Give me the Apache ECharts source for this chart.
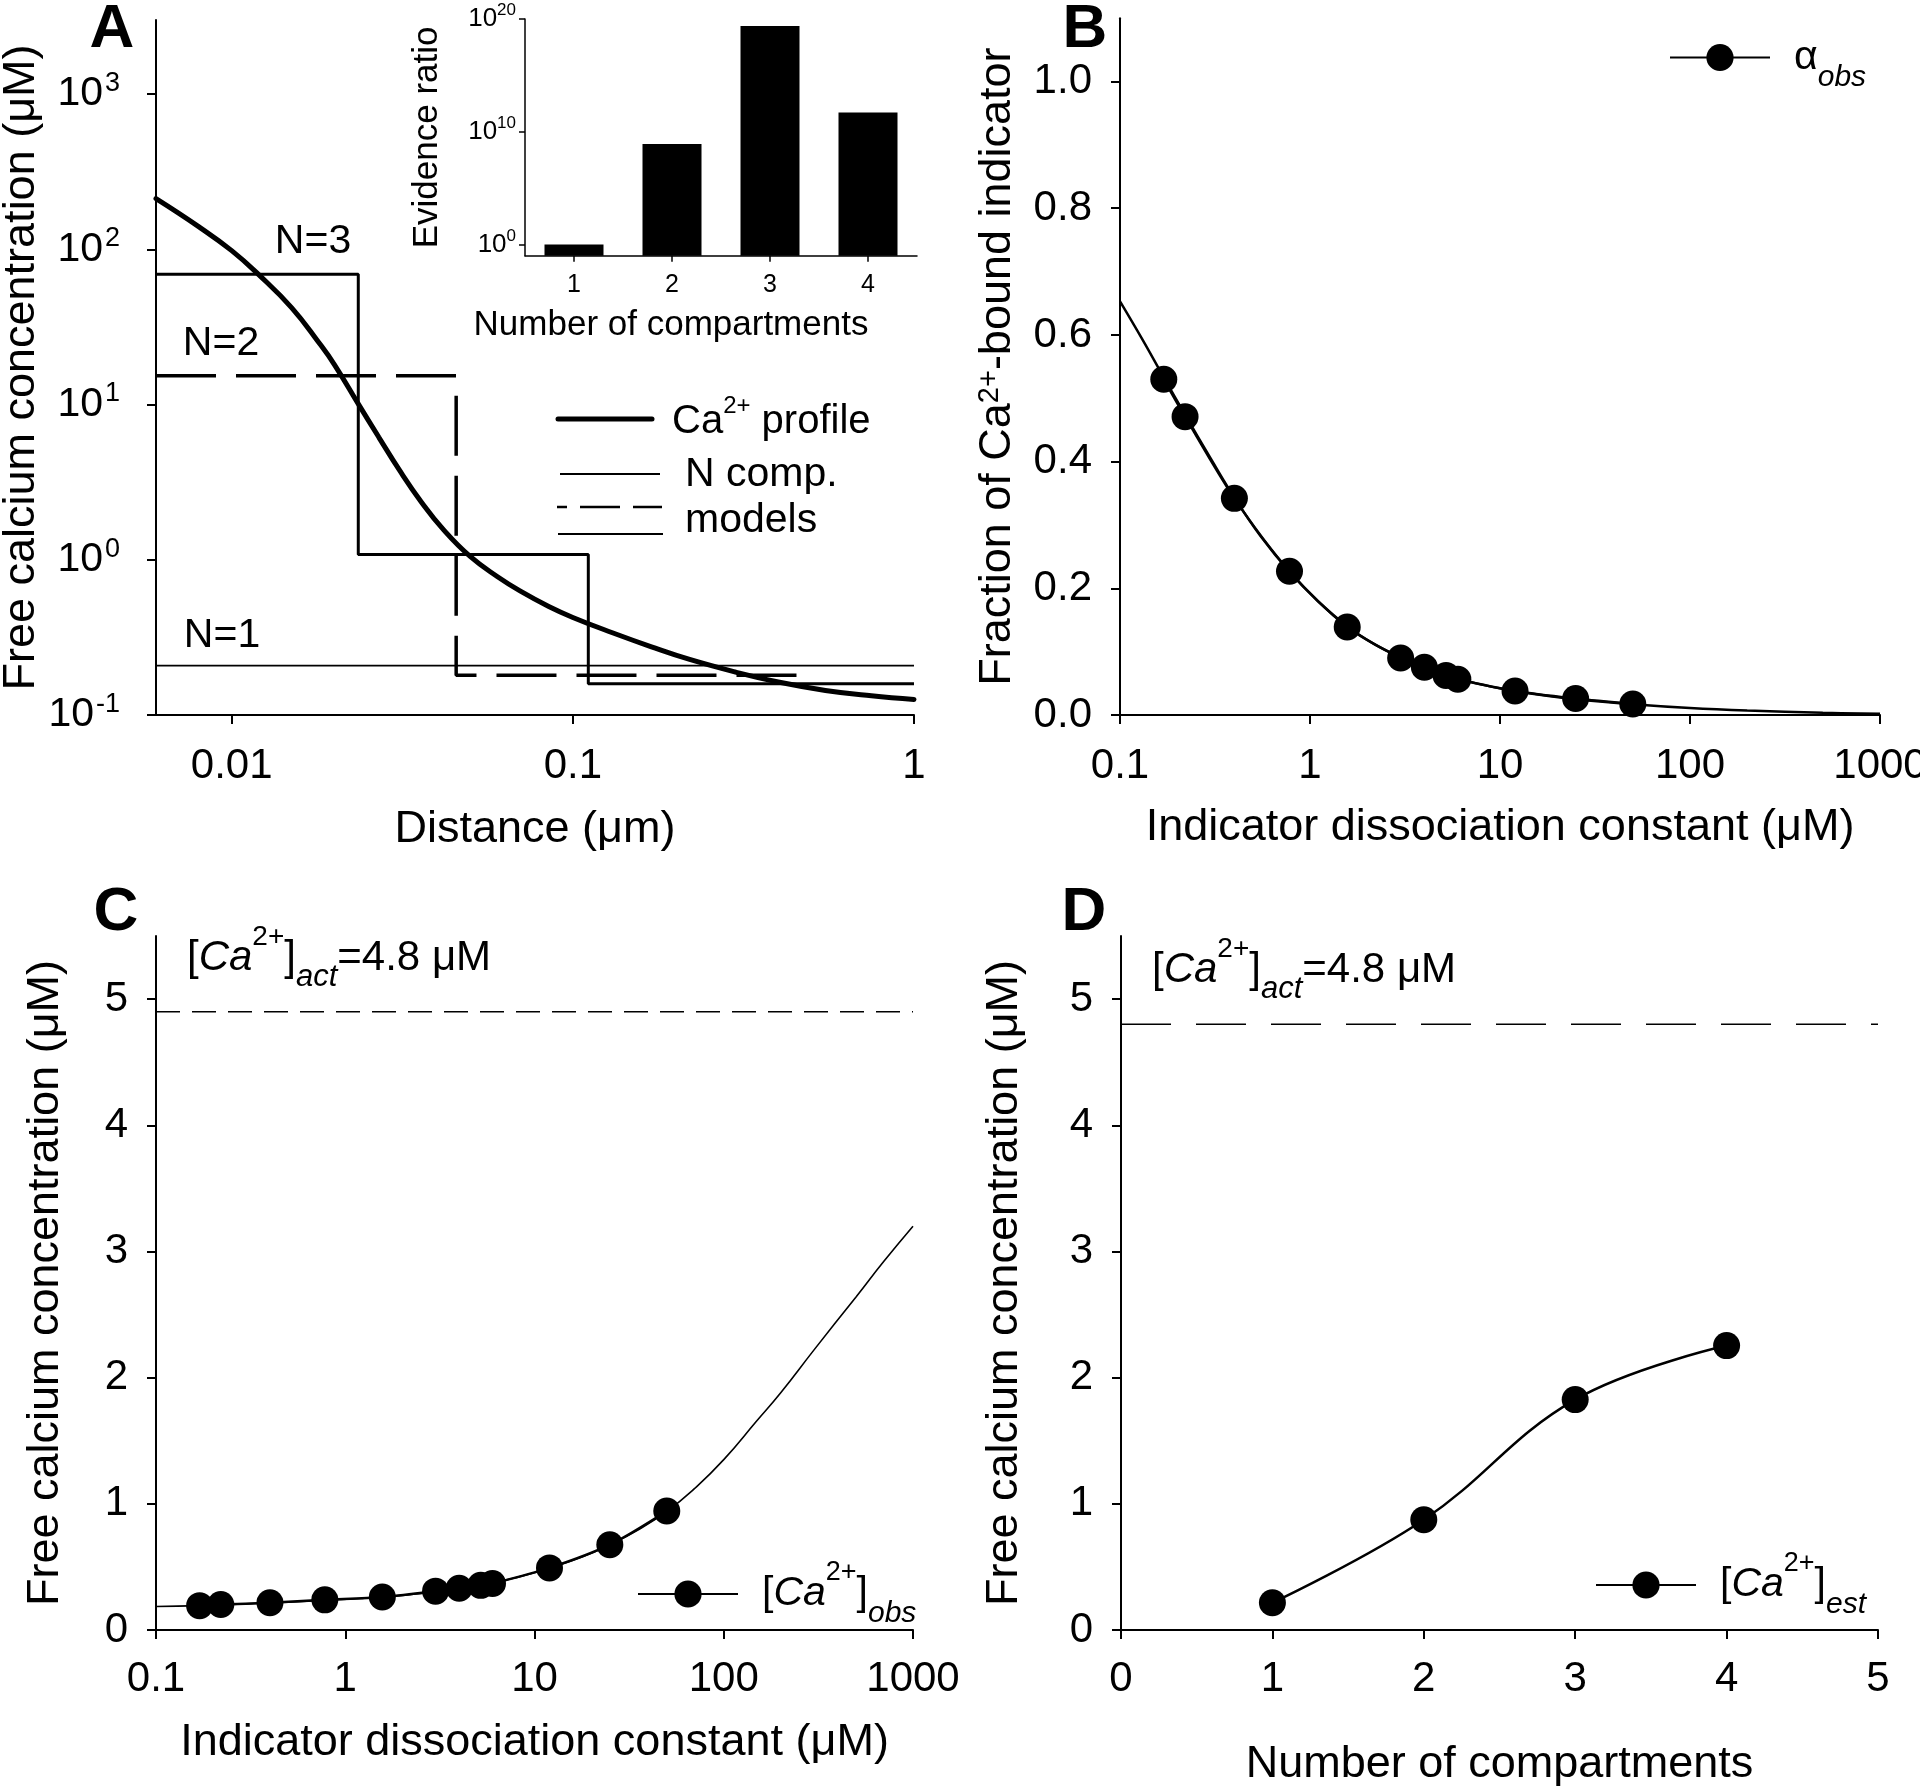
<!DOCTYPE html>
<html><head><meta charset="utf-8">
<script src="https://cdn.jsdelivr.net/npm/echarts@6/dist/echarts.min.js"></script>
<style>html,body{margin:0;padding:0;background:#fff}#c{width:1920px;height:1792px}</style>
</head><body><div id="c"></div>
<script>
// ---------- Panel A: calcium profile and compartment models ----------
const distance = [0.006, 0.008, 0.01, 0.012, 0.015, 0.018, 0.02, 0.0235, 0.027, 0.031, 0.036, 0.042, 0.05, 0.06, 0.07, 0.085, 0.1, 0.13, 0.17, 0.22, 0.3, 0.4, 0.55, 0.75, 1.0];
const caProfile = [212, 140, 98, 68.7, 42, 25.1, 18.1, 10.1, 6.15, 3.79, 2.35, 1.54, 1.05, 0.78, 0.63, 0.50, 0.425, 0.34, 0.275, 0.228, 0.189, 0.163, 0.144, 0.133, 0.126];
const n1X = [0.006, 1];
const n1Y = [0.208, 0.208];
const n2X = [0.006, 0.0455, 0.51];
const n2Y = [15.3, 0.18, 0.18];
const n3X = [0.006, 0.0235, 0.111, 1];
const n3Y = [69, 1.08, 0.159, 0.159];
// ---------- Inset: evidence ratio ----------
const compartments = ['1', '2', '3', '4'];
const evidenceRatio = [1, 8e8, 2.4e19, 5e11];
// ---------- Panel B ----------
const kd = [0.17, 0.22, 0.4, 0.78, 1.57, 3.0, 4.0, 5.2, 6.0, 12, 25, 50];
const alphaObs = [0.53, 0.471, 0.342, 0.227, 0.139, 0.090, 0.0755, 0.0625, 0.0564, 0.038, 0.026, 0.0174];
const kdFitB = [0.1, 0.13, 0.17, 0.22, 0.3, 0.4, 0.55, 0.78, 1.1, 1.57, 2.2, 3, 4, 5.5, 8, 12, 18, 25, 50, 100, 200, 500, 1000];
const alphaFit = [0.653, 0.595, 0.533, 0.474, 0.405, 0.343, 0.282, 0.226, 0.180, 0.140, 0.111, 0.091, 0.075, 0.061, 0.048, 0.038, 0.030, 0.025, 0.017, 0.011, 0.007, 0.0035, 0.002];
// ---------- Panel C ----------
const caObs = [0.193, 0.202, 0.216, 0.239, 0.262, 0.308, 0.331, 0.354, 0.368, 0.492, 0.676, 0.943];
const kdFitC = [0.1, 0.17, 0.3, 0.5, 0.78, 1.2, 1.6, 2.2, 3, 4, 5.5, 8, 12, 18, 25, 35, 50, 70, 100, 150, 200, 300, 500, 700, 1000];
const caFit = [0.186, 0.193, 0.207, 0.22, 0.236, 0.25, 0.262, 0.28, 0.302, 0.328, 0.36, 0.415, 0.49, 0.58, 0.675, 0.79, 0.94, 1.12, 1.35, 1.66, 1.88, 2.22, 2.64, 2.92, 3.2];
const caActC = 4.9;
// ---------- Panel D ----------
const nComp = [1, 2, 3, 4];
const caEst = [0.216, 0.874, 1.826, 2.254];
const caActD = 4.8;
// tick values
const linTicksB = [0, 0.2, 0.4, 0.6, 0.8, 1.0];
const linTicksCD = [0, 1, 2, 3, 4, 5];

const zip = (a, b) => a.map((v, i) => [v, b[i]]);
const FF = "'Liberation Sans', Arial, Helvetica, sans-serif";
const K = '#000';

function richSet(base, supSize, subSize, L, hs, hb) {
  return {
    n: {fontSize: base, fontFamily: FF, color: K, lineHeight: L},
    i: {fontSize: base, fontFamily: FF, fontStyle: 'italic', color: K, lineHeight: L},
    sup: {fontSize: supSize, fontFamily: FF, color: K, verticalAlign: 'top', lineHeight: hs},
    sub: {fontSize: subSize, fontFamily: FF, fontStyle: 'italic', color: K, verticalAlign: 'bottom', lineHeight: hb},
    gap: {width: 19, lineHeight: L}
  };
}
const richMain = richSet(41, 27, 30, 70, 30, 38);
const richName = richSet(45, 29, 32, 70, 30, 38);
const richPowMain = {b: {fontSize: 41, fontFamily: FF, color: K, lineHeight: 48}, s: {fontSize: 27, fontFamily: FF, color: K, verticalAlign: 'top', lineHeight: 36, padding: [0, 0, 0, 2]}};
const richPowInset = {b: {fontSize: 26, fontFamily: FF, color: K, lineHeight: 34}, s: {fontSize: 17, fontFamily: FF, color: K, verticalAlign: 'top', lineHeight: 20}};

function pow10(v) { const e = Math.round(Math.log10(v)); return '{b|10}{s|' + e + '}'; }
function fmtNum(v) { return String(Number(Number(v).toPrecision(3))); }

const aLine = {show: true, onZero: false, lineStyle: {color: K, width: 2}};
const aTick = {show: true, inside: false, length: 9, lineStyle: {color: K, width: 2}};
const noSplit = {show: false};
const nameStyle = {fontSize: 45, fontFamily: FF, color: K};
const labelStyle = {fontSize: 42, fontFamily: FF, color: K};

const option = {
  animation: false,
  backgroundColor: '#fff',
  grid: [
    {left: 156, top: 20, width: 758, height: 695, outerBoundsMode: 'none'},
    {left: 525, top: 19, width: 392, height: 236.7, outerBoundsMode: 'none'},
    {left: 1120, top: 18.2, width: 760, height: 696.8, outerBoundsMode: 'none'},
    {left: 156, top: 936, width: 757, height: 694, outerBoundsMode: 'none'},
    {left: 1121, top: 936, width: 757, height: 694, outerBoundsMode: 'none'}
  ],
  xAxis: [
    {type: 'log', gridIndex: 0, min: 0.006, max: 1, logBase: 10, axisLine: aLine, axisTick: aTick, splitLine: noSplit,
     axisLabel: Object.assign({formatter: fmtNum, margin: 30, showMinLabel: false}, labelStyle),
     name: 'Distance (μm)', nameLocation: 'middle', nameGap: 92, nameTextStyle: nameStyle},
    {type: 'category', gridIndex: 1, data: compartments, axisLine: {show: true, onZero: false, lineStyle: {color: K, width: 1.5}},
     axisTick: {show: true, alignWithLabel: true, length: 6, lineStyle: {color: K, width: 1.5}},
     axisLabel: {fontSize: 25, fontFamily: FF, color: K, margin: 17},
     name: 'Number of compartments', nameLocation: 'middle', nameGap: 52,
     nameTextStyle: {fontSize: 35, fontFamily: FF, color: K, padding: [0, 100, 0, 0]}},
    {type: 'log', gridIndex: 2, min: 0.1, max: 1000, logBase: 10, axisLine: aLine, axisTick: aTick, splitLine: noSplit,
     axisLabel: Object.assign({formatter: fmtNum, margin: 30}, labelStyle),
     name: 'Indicator dissociation constant (μM)', nameLocation: 'middle', nameGap: 90, nameTextStyle: nameStyle},
    {type: 'log', gridIndex: 3, min: 0.1, max: 1000, logBase: 10, axisLine: aLine, axisTick: aTick, splitLine: noSplit,
     axisLabel: Object.assign({formatter: fmtNum, margin: 28}, labelStyle),
     name: 'Indicator dissociation constant (μM)', nameLocation: 'middle', nameGap: 90, nameTextStyle: nameStyle},
    {type: 'value', gridIndex: 4, min: 0, max: 5, interval: 1, axisLine: aLine, axisTick: aTick, splitLine: noSplit,
     axisLabel: Object.assign({margin: 28}, labelStyle),
     name: 'Number of compartments', nameLocation: 'middle', nameGap: 112, nameTextStyle: nameStyle}
  ],
  yAxis: [
    {type: 'log', gridIndex: 0, min: 0.1, max: 3000, logBase: 10, axisLine: aLine, axisTick: aTick, splitLine: noSplit,
     axisLabel: {formatter: pow10, rich: richPowMain, margin: 36, showMaxLabel: false},
     name: 'Free calcium concentration (μM)', nameLocation: 'middle', nameGap: 102, nameTextStyle: nameStyle},
    {type: 'log', gridIndex: 1, min: 0.1, max: 1e20, logBase: 10, startValue: 0.1,
     axisLine: {show: true, onZero: false, lineStyle: {color: K, width: 1.5}},
     axisTick: {show: true, length: 6, lineStyle: {color: K, width: 1.5}}, splitLine: noSplit,
     axisLabel: {formatter: pow10, rich: richPowInset, margin: 9, showMinLabel: false},
     name: 'Evidence ratio', nameLocation: 'middle', nameGap: 80, nameTextStyle: {fontSize: 35, fontFamily: FF, color: K}},
    {type: 'value', gridIndex: 2, min: 0, max: 1.1, axisLine: aLine,
     axisTick: Object.assign({customValues: linTicksB}, aTick), splitLine: noSplit,
     axisLabel: Object.assign({customValues: linTicksB, formatter: v => Number(v).toFixed(1), margin: 28}, labelStyle),
     name: 'Fraction of Ca{sup|2+}-bound indicator', nameLocation: 'middle', nameGap: 100,
     nameTextStyle: Object.assign({rich: richName}, nameStyle)},
    {type: 'value', gridIndex: 3, min: 0, max: 5.5, axisLine: aLine,
     axisTick: Object.assign({customValues: linTicksCD}, aTick), splitLine: noSplit,
     axisLabel: Object.assign({customValues: linTicksCD, margin: 28}, labelStyle),
     name: 'Free calcium concentration (μM)', nameLocation: 'middle', nameGap: 88, nameTextStyle: nameStyle},
    {type: 'value', gridIndex: 4, min: 0, max: 5.5, axisLine: aLine,
     axisTick: Object.assign({customValues: linTicksCD}, aTick), splitLine: noSplit,
     axisLabel: Object.assign({customValues: linTicksCD, margin: 28}, labelStyle),
     name: 'Free calcium concentration (μM)', nameLocation: 'middle', nameGap: 94, nameTextStyle: nameStyle}
  ],
  legend: [
    {data: ['alphaObs'], left: 1669, top: 37, padding: 0, itemWidth: 100, itemHeight: 34, selectedMode: false,
     formatter: () => '{gap|}{n|α}{sub|obs}', textStyle: {rich: richMain}},
    {data: ['caObs'], left: 637, top: 1559, padding: 0, itemWidth: 100, itemHeight: 34, selectedMode: false,
     formatter: () => '{gap|}{n|[}{i|Ca}{sup|2+}{n|]}{sub|obs}', textStyle: {rich: richMain}},
    {data: ['caEst'], left: 1595, top: 1550, padding: 0, itemWidth: 100, itemHeight: 34, selectedMode: false,
     formatter: () => '{gap|}{n|[}{i|Ca}{sup|2+}{n|]}{sub|est}', textStyle: {rich: richMain}}
  ],
  series: [
    {name: 'N1', type: 'line', xAxisIndex: 0, yAxisIndex: 0, data: zip(n1X, n1Y), showSymbol: false, symbol: 'none',
     lineStyle: {color: K, width: 1.6}, z: 2},
    {name: 'N2', type: 'line', xAxisIndex: 0, yAxisIndex: 0, data: zip(n2X, n2Y), step: 'end', symbol: 'none',
     lineStyle: {color: K, width: 3.5, type: [60, 20]}, z: 2},
    {name: 'N3', type: 'line', xAxisIndex: 0, yAxisIndex: 0, data: zip(n3X, n3Y), step: 'end', symbol: 'none',
     lineStyle: {color: K, width: 3}, z: 2},
    {name: 'profile', type: 'line', xAxisIndex: 0, yAxisIndex: 0, data: zip(distance, caProfile), smooth: 0.45, symbol: 'none',
     lineStyle: {color: K, width: 5, cap: 'round'}, z: 3},
    {name: 'evidence', type: 'bar', xAxisIndex: 1, yAxisIndex: 1, data: evidenceRatio, barWidth: 59,
     itemStyle: {color: K}},
    {name: 'alphaFit', type: 'line', xAxisIndex: 2, yAxisIndex: 2, data: zip(kdFitB, alphaFit), smooth: 0.4, symbol: 'none',
     lineStyle: {color: K, width: 2.5}},
    {name: 'alphaObs', type: 'line', xAxisIndex: 2, yAxisIndex: 2, data: zip(kd, alphaObs), smooth: 0.3, symbol: 'circle', symbolSize: 27,
     itemStyle: {color: K}, lineStyle: {color: K, width: 2.5}},
    {name: 'caFit', type: 'line', xAxisIndex: 3, yAxisIndex: 3, data: zip(kdFitC, caFit), smooth: 0.5, symbol: 'none',
     lineStyle: {color: K, width: 1.6}},
    {name: 'caObs', type: 'line', xAxisIndex: 3, yAxisIndex: 3, data: zip(kd, caObs), smooth: 0.3, symbol: 'circle', symbolSize: 27,
     itemStyle: {color: K}, lineStyle: {color: K, width: 2.5}},
    {name: 'caActC', type: 'line', xAxisIndex: 3, yAxisIndex: 3, data: [[0.1, caActC], [1000, caActC]], symbol: 'none',
     lineStyle: {color: K, width: 1.5, type: [24, 12]}},
    {name: 'caEst', type: 'line', xAxisIndex: 4, yAxisIndex: 4, data: zip(nComp, caEst), smooth: 0.4, symbol: 'circle', symbolSize: 27,
     itemStyle: {color: K}, lineStyle: {color: K, width: 2.5}},
    {name: 'caActD', type: 'line', xAxisIndex: 4, yAxisIndex: 4, data: [[0, caActD], [5, caActD]], symbol: 'none',
     lineStyle: {color: K, width: 1.5, type: [50, 25]}}
  ],
  graphic: [
    {type: 'text', x: 112, y: 30, style: {text: 'A', font: 'bold 62px ' + FF, fill: K, align: 'center', verticalAlign: 'middle', textAlign: 'center', textVerticalAlign: 'middle'}},
    {type: 'text', x: 1085, y: 30, style: {text: 'B', font: 'bold 62px ' + FF, fill: K, align: 'center', verticalAlign: 'middle', textAlign: 'center', textVerticalAlign: 'middle'}},
    {type: 'text', x: 116, y: 913, style: {text: 'C', font: 'bold 62px ' + FF, fill: K, align: 'center', verticalAlign: 'middle', textAlign: 'center', textVerticalAlign: 'middle'}},
    {type: 'text', x: 1084, y: 913, style: {text: 'D', font: 'bold 62px ' + FF, fill: K, align: 'center', verticalAlign: 'middle', textAlign: 'center', textVerticalAlign: 'middle'}},
    {type: 'text', x: 313, y: 242, style: {text: 'N=3', font: '41px ' + FF, fill: K, align: 'center', verticalAlign: 'middle'}},
    {type: 'text', x: 221, y: 344, style: {text: 'N=2', font: '41px ' + FF, fill: K, align: 'center', verticalAlign: 'middle'}},
    {type: 'text', x: 222, y: 636, style: {text: 'N=1', font: '41px ' + FF, fill: K, align: 'center', verticalAlign: 'middle'}},
    // panel A legend
    {type: 'line', shape: {x1: 558, y1: 419, x2: 652, y2: 419}, style: {stroke: K, lineWidth: 5, lineCap: 'round'}},
    {type: 'line', shape: {x1: 560, y1: 474, x2: 660, y2: 474}, style: {stroke: K, lineWidth: 2}},
    {type: 'line', shape: {x1: 557, y1: 507, x2: 662, y2: 507}, style: {stroke: K, lineWidth: 2.5, lineDash: [40, 13], lineDashOffset: 30}},
    {type: 'line', shape: {x1: 558, y1: 534, x2: 663, y2: 534}, style: {stroke: K, lineWidth: 2}},
    {type: 'text', x: 672, y: 422, style: {text: '{n|Ca}{sup|2+}{n| profile}', rich: richSet(40, 24, 28, 56, 34, 40), align: 'left', verticalAlign: 'middle'}},
    {type: 'text', x: 685, y: 475, style: {text: 'N comp.', font: '41px ' + FF, fill: K, align: 'left', verticalAlign: 'middle'}},
    {type: 'text', x: 685, y: 521, style: {text: 'models', font: '41px ' + FF, fill: K, align: 'left', verticalAlign: 'middle'}},
    // annotations C and D
    {type: 'text', x: 187, y: 958, style: {text: '{n|[}{i|Ca}{sup|2+}{n|]}{sub|act}{n|=4.8 μM}', rich: richSet(42, 28, 31, 70, 30, 38), align: 'left', verticalAlign: 'middle'}},
    {type: 'text', x: 1152, y: 970, style: {text: '{n|[}{i|Ca}{sup|2+}{n|]}{sub|act}{n|=4.8 μM}', rich: richSet(42, 28, 31, 70, 30, 38), align: 'left', verticalAlign: 'middle'}}
  ]
};
const chart = echarts.init(document.getElementById('c'), null, {renderer: 'canvas', width: 1920, height: 1792});
chart.setOption(option);
</script></body></html>
